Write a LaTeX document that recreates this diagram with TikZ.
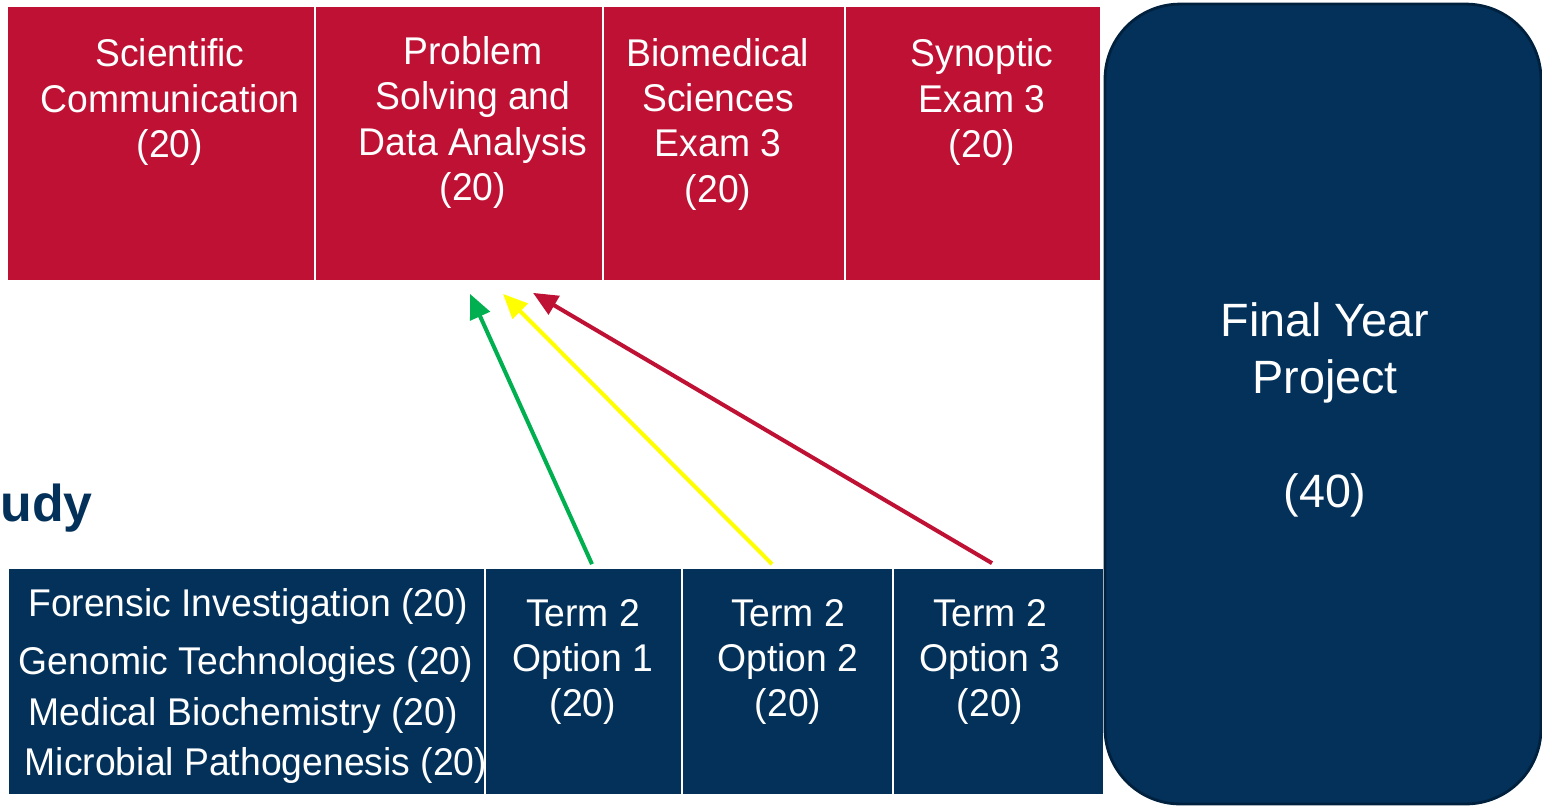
\documentclass[tikz,border=0pt]{standalone}
\usepackage{fontspec}
\setmainfont{Liberation Sans}
\newfontfamily\modfont{Liberation Sans}[FakeStretch=0.965]
\usetikzlibrary{calc}
\usetikzlibrary{arrows.meta}
\definecolor{modred}{RGB}{190,17,52}
\definecolor{modnavy}{RGB}{3,49,90}
\definecolor{edgenavy}{RGB}{0,33,62}
\definecolor{arrgreen}{RGB}{0,176,80}
\definecolor{arryellow}{RGB}{255,255,0}

\begin{document}
\begin{tikzpicture}[x=0.02cm,y=-0.02cm,
    redbox/.style={fill=modred, draw=white, line width=1pt, inner sep=0pt},
    bluebox/.style={fill=modnavy, draw=white, line width=1pt, inner sep=0pt},
    modtext/.style={text=white, align=center, inner sep=0pt, font={\modfont\fontsize{22}{25.8}\selectfont}},
    link/.style={line width=2.3pt, -{Triangle[length=14pt,width=12pt]}}]
    \useasboundingbox (0,0) rectangle (1542,806);
    % top row
    \node[redbox, minimum width=6.16cm, minimum height=5.5cm] (sci) at (161,143.5) {};
    \node[redbox, minimum width=5.76cm, minimum height=5.5cm] (psda) at (459,143.5) {};
    \node[redbox, minimum width=4.84cm, minimum height=5.5cm] (bms) at (724,143.5) {};
    \node[redbox, minimum width=5.12cm, minimum height=5.5cm] (syn) at (973,143.5) {};
    \node[modtext] (scit) at (170,102) {Scientific\\Communication\\(20)};
    \node[modtext] (psdat) at (473,122.5) {Problem\\Solving and\\Data Analysis\\(20)};
    \node[modtext] (bmst) at (718,124) {Biomedical\\Sciences\\Exam 3\\(20)};
    \node[modtext] (synt) at (982,102) {Synoptic\\Exam 3\\(20)};
    % bottom row
    \node[bluebox, minimum width=9.54cm, minimum height=4.54cm] (list) at (246.5,681.5) {};
    \node[bluebox, minimum width=3.94cm, minimum height=4.54cm] (opt1) at (583.5,681.5) {};
    \node[bluebox, minimum width=4.22cm, minimum height=4.54cm] (opt2) at (787.5,681.5) {};
    \node[bluebox, minimum width=4.22cm, minimum height=4.54cm] (opt3) at (998.5,681.5) {};
    \node[modtext] (fi) at (248,606) {Forensic Investigation (20)};
    \node[modtext] (gt) at (246,664) {Genomic Technologies (20)};
    \node[modtext] (mb) at (243,715) {Medical Biochemistry (20)};
    \node[modtext] (mp) at (256,765) {Microbial Pathogenesis (20)};
    \node[modtext] (opt1t) at (583,662) {Term 2\\Option 1\\(20)};
    \node[modtext] (opt2t) at (788,662) {Term 2\\Option 2\\(20)};
    \node[modtext] (opt3t) at (990,662) {Term 2\\Option 3\\(20)};
    % project
    \node[fill=modnavy, draw=edgenavy, line width=1.6pt, rounded corners=1.5cm,
        minimum width=8.72cm, minimum height=16cm, inner sep=0pt] (fyp) at (1323,404) {};
    \node[text=white, align=center, inner sep=0pt, font=\fontsize{26.6}{32.3}\selectfont] (fypt) at (1325,410)
        {Final Year\\Project\\[32.3pt](40)};
    \node[anchor=base east, inner sep=0pt, text=modnavy, font=\bfseries\fontsize{29.5}{32}\selectfont] (study) at (93,521) {udy};
    % arrows
    \draw[link, arrgreen] ($(opt1.north)+(8.5,-3)$) -- ($(psda.south)+(11,12)$);
    \draw[link, arryellow] ($(opt2.north)+(-15.5,-3)$) -- ($(psda.south)+(44,12)$);
    \draw[link, modred] ($(opt3.north)+(-6.5,-4)$) -- ($(psda.south)+(74,11)$);
\end{tikzpicture}
\end{document}
